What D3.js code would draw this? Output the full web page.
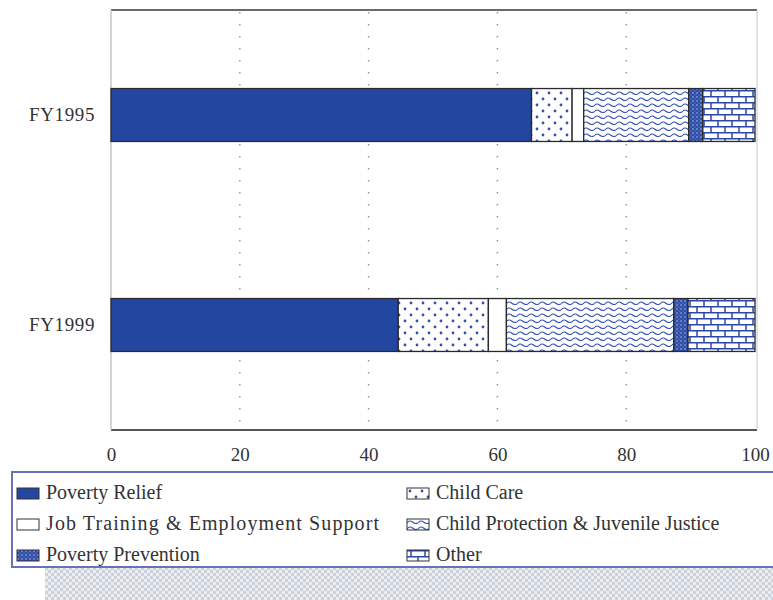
<!DOCTYPE html>
<html>
<head>
<meta charset="utf-8">
<script src="https://cdn.jsdelivr.net/npm/d3@7"></script>
<style>
  html, body { margin: 0; padding: 0; background: #fff; }
  svg { display: block; }
  text { font-family: "Liberation Serif", "Times New Roman", serif; fill: #333; }
</style>
</head>
<body>
<svg id="chart" width="773" height="600"></svg>
<script>
// Shares of spending (percent) by fiscal year
const years = ["FY1995", "FY1999"];
const categories = ["Poverty Relief", "Child Care", "Job Training & Employment Support",
                    "Child Protection & Juvenile Justice", "Poverty Prevention", "Other"];
const povertyRelief   = [65.3, 44.6];
const childCare       = [6.3, 14.0];
const jobTraining     = [1.8, 2.8];
const childProtection = [16.3, 26.0];
const povertyPrevent  = [2.2, 2.2];
const other           = [8.1, 10.4];
const xTicks = [0, 20, 40, 60, 80, 100];

const series = [povertyRelief, childCare, jobTraining, childProtection, povertyPrevent, other];
const rows = years.map((y, i) => {
  const r = { year: y };
  categories.forEach((c, k) => r[c] = series[k][i]);
  return r;
});

const svg = d3.select("#chart");
const defs = svg.append("defs");
const blue = "#2346a0";
const ink = "#3450b0";

// Fill patterns for each category
function pat(id, w, h, draw) {
  const p = defs.append("pattern").attr("id", id).attr("patternUnits", "userSpaceOnUse")
    .attr("width", w).attr("height", h);
  draw(p);
}
pat("p-dots", 12, 12, p => {
  p.append("rect").attr("width", 12).attr("height", 12).attr("fill", "#fff");
  p.append("circle").attr("cx", 3).attr("cy", 3).attr("r", 1.4).attr("fill", ink);
  p.append("circle").attr("cx", 9).attr("cy", 9).attr("r", 1.4).attr("fill", ink);
});
pat("p-wave", 11, 6, p => {
  p.append("rect").attr("width", 11).attr("height", 6).attr("fill", "#fff");
  p.append("path").attr("d", "M0,4 Q2.75,0.5 5.5,3 T11,4").attr("fill", "none")
    .attr("stroke", ink).attr("stroke-width", 1.1);
});
pat("p-speck", 4, 4, p => {
  p.append("rect").attr("width", 4).attr("height", 4).attr("fill", "#2f4ea8");
  p.append("circle").attr("cx", 1).attr("cy", 1).attr("r", 0.7).attr("fill", "#c8d0ec");
  p.append("circle").attr("cx", 3).attr("cy", 3).attr("r", 0.5).attr("fill", "#8fa0d8");
});
pat("p-brick", 14, 12, p => {
  p.append("rect").attr("width", 14).attr("height", 12).attr("fill", "#fff");
  p.append("path").attr("d", "M0,0.75H14 M0,6.75H14 M4,0V6 M11,6V12")
    .attr("stroke", "#2b48a8").attr("stroke-width", 1.5).attr("fill", "none");
});
pat("p-check", 6, 6, p => {
  p.append("rect").attr("width", 6).attr("height", 6).attr("fill", "#ebedf1");
  p.append("rect").attr("width", 3).attr("height", 3).attr("fill", "#cdd1da");
  p.append("rect").attr("x", 3).attr("y", 3).attr("width", 3).attr("height", 3).attr("fill", "#cdd1da");
});

const fills = [blue, "url(#p-dots)", "#fff", "url(#p-wave)", "url(#p-speck)", "url(#p-brick)"];
const color = d3.scaleOrdinal().domain(categories).range(fills);

const x = d3.scaleLinear().domain([0, 100]).range([111, 755]);
const y = d3.scaleBand().domain(years).range([10, 430]).paddingInner(0.748).paddingOuter(0.374);

// Plot frame
svg.append("line").attr("x1", 111).attr("x2", 757).attr("y1", 10).attr("y2", 10)
  .attr("stroke", "#6a6a6a").attr("stroke-width", 2);
svg.append("line").attr("x1", 111).attr("x2", 757).attr("y1", 430).attr("y2", 430)
  .attr("stroke", "#555").attr("stroke-width", 2);
svg.append("line").attr("x1", 111).attr("x2", 111).attr("y1", 10).attr("y2", 430)
  .attr("stroke", "#c4c6cc").attr("stroke-width", 1.5);
svg.append("line").attr("x1", 757).attr("x2", 757).attr("y1", 10).attr("y2", 430)
  .attr("stroke", "#c4c6cc").attr("stroke-width", 1);

// Dotted gridlines
svg.append("g").selectAll("line").data(xTicks.filter(t => t > 0 && t < 100)).join("line")
  .attr("x1", d => x(d)).attr("x2", d => x(d)).attr("y1", 12).attr("y2", 428)
  .attr("stroke", "#9a9a9a").attr("stroke-width", 1.5).attr("stroke-dasharray", "1.5,10.5");

// Stacked bars
const stack = d3.stack().keys(categories)(rows);
svg.append("g").selectAll("g").data(stack).join("g")
  .attr("fill", d => color(d.key))
  .selectAll("rect").data(d => d).join("rect")
  .attr("x", d => x(d[0])).attr("width", d => x(d[1]) - x(d[0]))
  .attr("y", d => y(d.data.year)).attr("height", y.bandwidth())
  .attr("stroke", "#2a2a2a").attr("stroke-width", 1.3);

// Axes
const xAxis = svg.append("g").attr("transform", "translate(0,440)")
  .call(d3.axisBottom(x).tickValues(xTicks).tickSize(0).tickPadding(8));
xAxis.select(".domain").remove();
xAxis.selectAll("text").style("font-size", "19px").style("font-family", "Liberation Serif, serif").attr("fill", "#333");

const yAxis = svg.append("g").attr("transform", "translate(111,0)")
  .call(d3.axisLeft(y).tickSize(0).tickPadding(16));
yAxis.select(".domain").remove();
yAxis.selectAll("text").style("font-size", "19px").style("font-family", "Liberation Serif, serif")
  .style("letter-spacing", "0.6px").attr("fill", "#333");

// Checkered band under the legend
svg.append("rect").attr("x", 45).attr("y", 568).attr("width", 728).attr("height", 32)
  .attr("fill", "url(#p-check)");

// Legend
svg.append("rect").attr("x", 12).attr("y", 472).attr("width", 770).attr("height", 95)
  .attr("fill", "#fff").attr("stroke", "#6872b8").attr("stroke-width", 2);
const legend = svg.append("g").selectAll("g").data(categories).join("g")
  .attr("transform", (d, i) => `translate(${i % 2 === 0 ? 17 : 407},${488 + Math.floor(i / 2) * 31})`);
legend.append("rect").attr("width", 22).attr("height", 11)
  .attr("fill", d => color(d)).attr("stroke", "#333").attr("stroke-width", 1);
legend.append("text").attr("x", 29).attr("y", 11)
  .style("font-size", "20px")
  .style("letter-spacing", d => d.startsWith("Job") ? "1.1px" : "0px")
  .text(d => d);
</script>
</body>
</html>
